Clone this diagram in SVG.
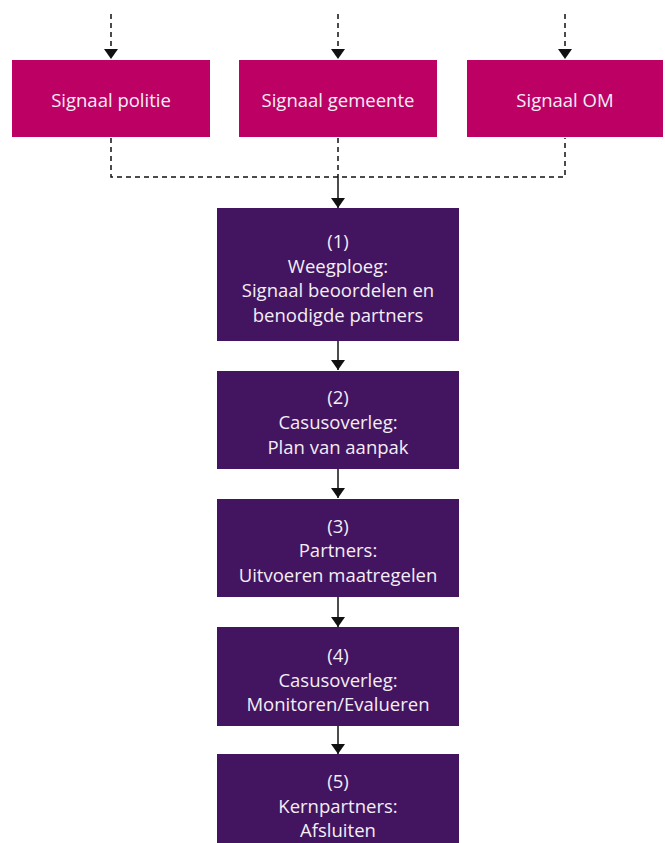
<svg xmlns="http://www.w3.org/2000/svg" width="665" height="843" viewBox="0 0 665 843">
<style>
.sig{fill:#BC0064}
.step{fill:#43145F}
text{font-family:"Open Sans","Liberation Sans",sans-serif;font-size:18.5px;fill:#F3EEF6;text-anchor:middle}
.dash{fill:none;stroke:#111;stroke-width:1.5;stroke-dasharray:5,4}
.solid{fill:none;stroke:#111;stroke-width:1.5}
</style>
<defs>
<marker id="ah" viewBox="0 0 10 14" refX="10" refY="7" markerWidth="10" markerHeight="14" markerUnits="userSpaceOnUse" orient="auto">
<path d="M0,0 L10,7 L0,14 z" fill="#111"/>
</marker>
</defs>
<g id="connectors">
<path class="dash" d="M111,14 V59" marker-end="url(#ah)"/>
<path class="dash" d="M338,14 V59" marker-end="url(#ah)"/>
<path class="dash" d="M565,14 V59" marker-end="url(#ah)"/>
<path class="dash" d="M111,138 V177 H565 V138"/>
<path class="dash" d="M338,138 V177"/>
<path class="solid" d="M338,177 V208" marker-end="url(#ah)"/>
<path class="solid" d="M338,341 V370" marker-end="url(#ah)"/>
<path class="solid" d="M338,469 V498" marker-end="url(#ah)"/>
<path class="solid" d="M338,597 V627" marker-end="url(#ah)"/>
<path class="solid" d="M338,726 V754" marker-end="url(#ah)"/>
</g>
<g id="signaal-politie">
<rect class="sig" x="12" y="60" width="198" height="77"/>
<text x="111" y="107">Signaal politie</text>
</g>
<g id="signaal-gemeente">
<rect class="sig" x="239" y="60" width="198" height="77"/>
<text x="338" y="107">Signaal gemeente</text>
</g>
<g id="signaal-om">
<rect class="sig" x="467" y="60" width="196" height="77"/>
<text x="565" y="107">Signaal OM</text>
</g>
<g id="step1">
<rect class="step" x="217" y="208" width="242" height="133"/>
<text x="338" y="248">(1)</text>
<text x="338" y="273">Weegploeg:</text>
<text x="338" y="297">Signaal beoordelen en</text>
<text x="338" y="322">benodigde partners</text>
</g>
<g id="step2">
<rect class="step" x="217" y="371" width="242" height="98"/>
<text x="338" y="404">(2)</text>
<text x="338" y="429">Casusoverleg:</text>
<text x="338" y="454">Plan van aanpak</text>
</g>
<g id="step3">
<rect class="step" x="217" y="499" width="242" height="98"/>
<text x="338" y="533">(3)</text>
<text x="338" y="557">Partners:</text>
<text x="338" y="582">Uitvoeren maatregelen</text>
</g>
<g id="step4">
<rect class="step" x="217" y="627" width="242" height="99"/>
<text x="338" y="662">(4)</text>
<text x="338" y="687">Casusoverleg:</text>
<text x="338" y="711">Monitoren/Evalueren</text>
</g>
<g id="step5">
<rect class="step" x="217" y="754" width="242" height="89"/>
<text x="338" y="788">(5)</text>
<text x="338" y="813">Kernpartners:</text>
<text x="338" y="837">Afsluiten</text>
</g>
</svg>
